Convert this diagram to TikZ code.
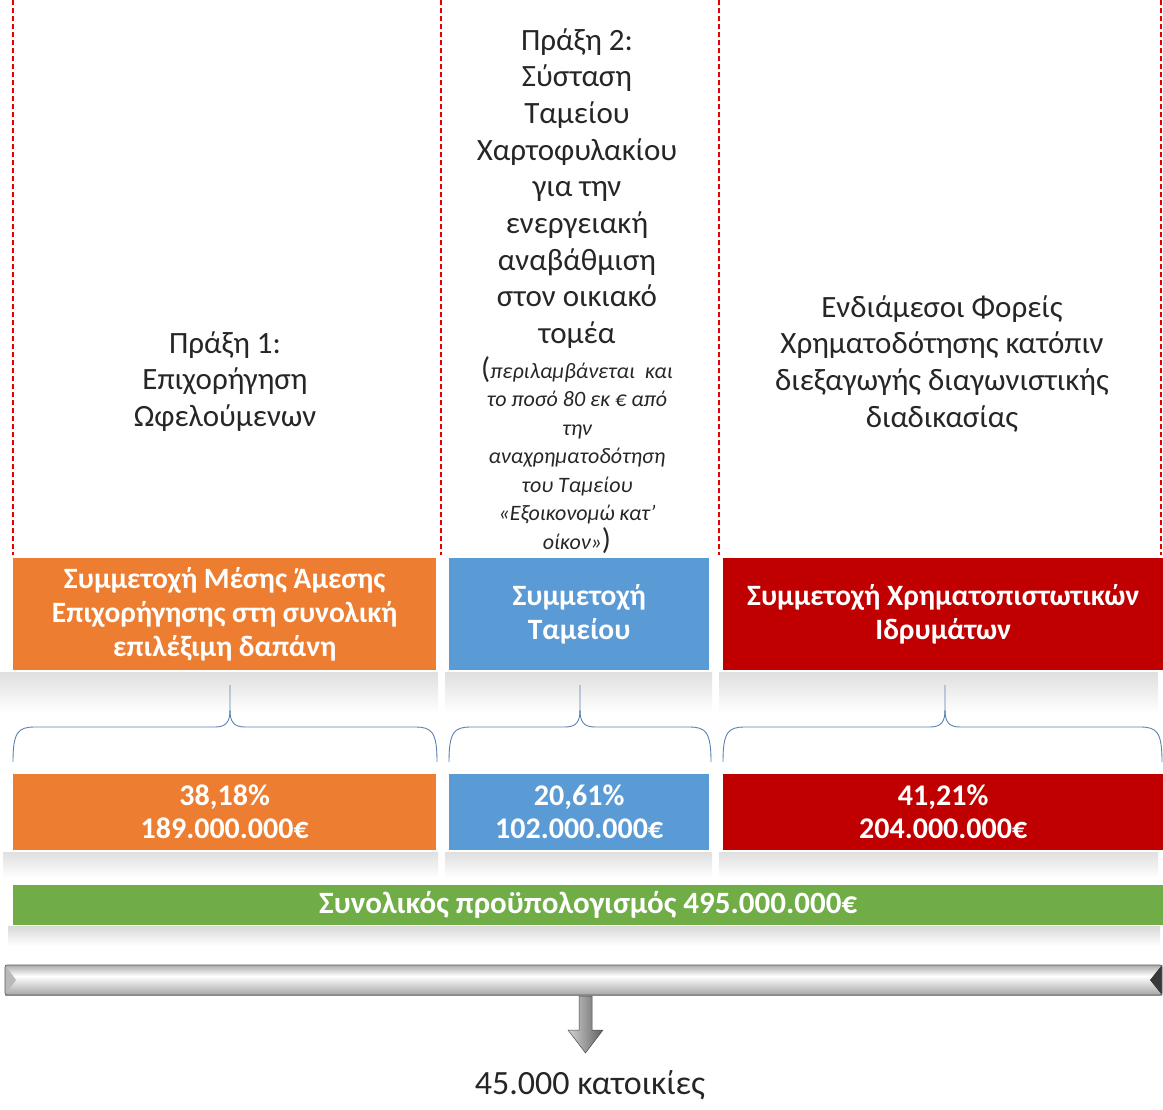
\documentclass[tikz,border=0pt]{standalone}
\usepackage{fontspec}
\setmainfont{Carlito}
\definecolor{orng}{HTML}{ED7D31}
\definecolor{blu}{HTML}{5B9BD5}
\definecolor{rd}{HTML}{C00000}
\definecolor{grn}{HTML}{70AD47}
\definecolor{brc}{HTML}{5A80B0}
\definecolor{txt}{HTML}{262626}
\newcommand{\drawbrace}[3]{%
  \draw[bracestyle] (#1,762) .. controls (#1,732) and (#1+5,727) .. (#1+22,727) -- (#2-15,727) .. controls (#2-4,727) and (#2,722) .. (#2,710) -- (#2,685);
  \draw[bracestyle] (#2,710) .. controls (#2,722) and (#2+4,727) .. (#2+15,727) -- (#3-22,727) .. controls (#3-5,727) and (#3,732) .. (#3,762);}
\begin{document}
\begin{tikzpicture}[x=1pt,y=-1pt,
  sepline/.style={draw=red!90!black, dash pattern=on 5pt off 3pt, line width=1.3pt},
  headtxt/.style={align=center, font=\fontsize{31}{36.7}\selectfont, text=txt, inner sep=0pt, anchor=north},
  smalltxt/.style={align=center, font=\fontsize{22}{28.5}\selectfont\itshape, text=txt, inner sep=0pt, anchor=north},
  colbox/.style={anchor=north west, inner sep=0pt, text=white, align=center, font=\fontsize{29.5}{34}\selectfont\bfseries},
  numbox/.style={colbox, font=\fontsize{30}{33}\selectfont\bfseries, minimum height=76pt},
  bracestyle/.style={draw=brc, line width=0.9pt},
  shadowband/.style={top color=gray!25, middle color=gray!45, bottom color=white}]
\useasboundingbox (0,0) rectangle (1163,1110);
% dashed separators
\draw[sepline] (13,0) -- (13,555);
\draw[sepline] (441,0) -- (441,555);
\draw[sepline] (719,0) -- (719,555);
\draw[sepline] (1161,0) -- (1161,555);
% column headings
\node[headtxt] (h1) at (225,331) {Πράξη 1:\\Επιχορήγηση\\Ωφελούμενων};
\node[headtxt] (h2) at (577,28) {Πράξη 2:\\Σύσταση\\Ταμείου\\Χαρτοφυλακίου\\για την\\ενεργειακή\\αναβάθμιση\\στον οικιακό\\τομέα};
\node[smalltxt] (h2b) at (577,356) {{\fontsize{30}{28}\selectfont\upshape(}περιλαμβάνεται\ \ και\\το ποσό 80 εκ € από\\την\\αναχρηματοδότηση\\του Ταμείου\\«Εξοικονομώ κατ’\\οίκον»{\fontsize{30}{28}\selectfont\upshape)}};
\node[headtxt] (h3) at (942,295) {Ενδιάμεσοι Φορείς\\Χρηματοδότησης κατόπιν\\διεξαγωγής διαγωνιστικής\\διαδικασίας};
% shadows
\fill[shadowband] (0,672) rectangle (438,713);
\fill[shadowband] (445,672) rectangle (712,713);
\fill[shadowband] (719,672) rectangle (1158,713);
\fill[shadowband] (3,852) rectangle (438,878);
\fill[shadowband] (445,852) rectangle (712,878);
\fill[shadowband] (719,852) rectangle (1158,878);
\fill[top color=gray!30, bottom color=white] (8,926) rectangle (1160,946);
% top boxes
\node[colbox, fill=orng, minimum width=423pt, minimum height=112pt] (o1) at (13,558) {Συμμετοχή Μέσης Άμεσης\\Επιχορήγησης στη συνολική\\επιλέξιμη δαπάνη};
\node[colbox, fill=blu, minimum width=260pt, minimum height=112pt] (b1) at (449,558) {Συμμετοχή\\Ταμείου};
\node[colbox, fill=rd, minimum width=440pt, minimum height=112pt] (r1) at (723,558) {Συμμετοχή Χρηματοπιστωτικών\\Ιδρυμάτων};
% braces
\drawbrace{13}{230}{437}
\drawbrace{449}{580}{711}
\drawbrace{723}{945}{1162}
% bottom boxes
\node[numbox, fill=orng, minimum width=423pt] (o2) at (13,774) {38,18\%\\189.000.000€};
\node[numbox, fill=blu, minimum width=260pt] (b2) at (449,774) {20,61\%\\102.000.000€};
\node[numbox, fill=rd, minimum width=440pt] (r2) at (723,774) {41,21\%\\204.000.000€};
% total
\node[colbox, fill=grn, font=\fontsize{31}{34}\selectfont\bfseries, minimum width=1150pt, minimum height=40pt] (tot) at (13,885) {Συνολικός προϋπολογισμός 495.000.000€};
% metallic bar
\shade[top color=gray!65, bottom color=white] (5,965) rectangle (1162,976);
\shade[top color=white, bottom color=gray!70] (5,976) rectangle (1162,995);
\fill[gray!55] (5,965) -- (16,980) -- (5,995) -- cycle;
\fill[gray!45!black] (1162,965) -- (1150,980) -- (1162,995) -- cycle;
\draw[gray!70!black, line width=0.6pt, rounded corners=2pt] (5,965) rectangle (1162,995);
\node[inner sep=0pt, minimum width=1157pt, minimum height=30pt, anchor=north west] (bar) at (5,965) {};
% arrow
\shade[left color=gray!35, right color=gray!75!black, draw=gray!60!black, line width=0.5pt]
  (579,996) -- (592,996) -- (592,1030) -- (603,1030) -- (585.5,1053) -- (568,1030) -- (579,1030) -- cycle;
\node[font=\fontsize{34}{40}\selectfont, text=txt, inner sep=0pt] (homes) at (590,1085) {45.000 κατοικίες};
\end{tikzpicture}
\end{document}
